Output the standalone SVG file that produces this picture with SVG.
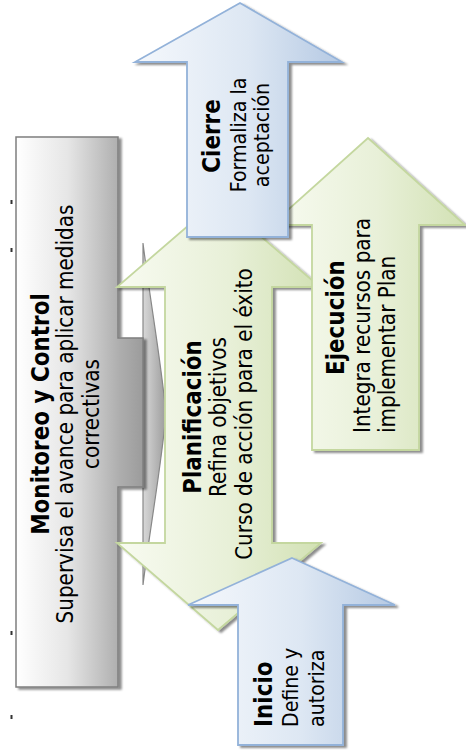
<svg xmlns="http://www.w3.org/2000/svg" width="466" height="756" viewBox="0 0 466 756">
<style>
  text { font-family: "DejaVu Sans", "Liberation Sans", sans-serif; fill: #000; }
  .b { font-weight: bold; font-size: 21.5px; }
  .r { font-size: 20px; }
  .rs { font-size: 19px; }
  .m { text-anchor: middle; }
  .blue { fill: url(#gBlue); stroke: #93b2d9; stroke-width: 1.8; stroke-linejoin: miter; }
  .green { fill: url(#gGreen); stroke: #c4d79f; stroke-width: 1.8; stroke-linejoin: miter; }
  .gray { fill: url(#gGray); stroke: #7f7f7f; stroke-width: 1.5; }
  .dot { fill: #333; }
</style>
<defs>
  <linearGradient id="gBlue" x1="0" y1="0" x2="1" y2="0">
    <stop offset="0" stop-color="#f5f8fc"/>
    <stop offset="0.55" stop-color="#dde7f3"/>
    <stop offset="1" stop-color="#b5c9e3"/>
  </linearGradient>
  <linearGradient id="gGreen" x1="0" y1="0" x2="1" y2="0">
    <stop offset="0" stop-color="#f8fbf1"/>
    <stop offset="0.55" stop-color="#e8f0d8"/>
    <stop offset="1" stop-color="#d2e1b4"/>
  </linearGradient>
  <linearGradient id="gGray" gradientUnits="userSpaceOnUse" x1="16" y1="0" x2="145" y2="0">
    <stop offset="0" stop-color="#ffffff"/>
    <stop offset="0.4" stop-color="#e6e6e6"/>
    <stop offset="0.8" stop-color="#aeaeae"/>
    <stop offset="1" stop-color="#9a9a9a"/>
  </linearGradient>
  <linearGradient id="gLens" gradientUnits="userSpaceOnUse" x1="143" y1="0" x2="166" y2="0">
    <stop offset="0" stop-color="#d8d8d8"/>
    <stop offset="1" stop-color="#9c9c9c"/>
  </linearGradient>
  <filter id="sh" x="-10%" y="-10%" width="125%" height="125%">
    <feDropShadow dx="3" dy="2" stdDeviation="1.2" flood-color="#000" flood-opacity="0.45"/>
  </filter>
</defs>

<g id="marks">
  <rect class="dot" x="10.5" y="200" width="2" height="4"/>
  <rect class="dot" x="10.5" y="248" width="2" height="4"/>
  <rect class="dot" x="10.5" y="631" width="2" height="4"/>
  <rect class="dot" x="10.5" y="715" width="2" height="4"/>
</g>

<g id="monitoreo">
  <path d="M143,243 C150,300 161,360 166,414 C161,468 150,528 143,585 Z" fill="url(#gLens)" stroke="#888" stroke-width="1.2"/>
  <path class="gray" filter="url(#sh)" d="M16,137 H118 V338 H143 V487 H118 V687 H16 Z"/>
  <text class="b m" transform="translate(49,414) scale(1.15,1) rotate(-90)">Monitoreo y Control</text>
  <text class="r m" transform="translate(73,414) scale(1.15,1) rotate(-90)">Supervisa el avance para aplicar medidas</text>
  <text class="r m" transform="translate(99,414) scale(1.15,1) rotate(-90)">correctivas</text>
</g>

<g id="planificacion">
  <path class="green" filter="url(#sh)" d="M218,200 L320,287 H272 V543 H321 L218,630 L117,543 H165 V287 H117 Z"/>
  <text class="b m" transform="translate(201,417) scale(1.15,1) rotate(-90)">Planificación</text>
  <text class="r m" transform="translate(226,417) scale(1.15,1) rotate(-90)">Refina objetivos</text>
  <text class="r m" transform="translate(252,414) scale(1.15,1) rotate(-90)">Curso de acción para el éxito</text>
</g>

<g id="ejecucion">
  <path class="green" filter="url(#sh)" d="M368,138 L465,225 H419 V450 H312 V225 H271 Z"/>
  <text class="b" transform="translate(344,375) scale(1.15,1) rotate(-90)">Ejecución</text>
  <text class="r" transform="translate(370,433) scale(1.15,1) rotate(-90)">Integra recursos para</text>
  <text class="r" transform="translate(395,433) scale(1.15,1) rotate(-90)">implementar Plan</text>
</g>

<g id="cierre">
  <path class="blue" filter="url(#sh)" d="M240,3 L342,62 H288 V237 H187 V62 H135 Z"/>
  <text class="b m" transform="translate(220,136) scale(1.15,1) rotate(-90)">Cierre</text>
  <text class="rs m" transform="translate(246,135) scale(1.15,1) rotate(-90)">Formaliza la</text>
  <text class="rs m" transform="translate(269,135) scale(1.15,1) rotate(-90)">aceptación</text>
</g>

<g id="inicio">
  <path class="blue" filter="url(#sh)" d="M292,558 L395,605 H343 V745 H238 V605 H188 Z"/>
  <text class="b" transform="translate(272,727) scale(1.15,1) rotate(-90)">Inicio</text>
  <text class="rs" transform="translate(298,727) scale(1.15,1) rotate(-90)">Define y</text>
  <text class="rs" transform="translate(324,727) scale(1.15,1) rotate(-90)">autoriza</text>
</g>

<g id="connectors"></g>
</svg>
